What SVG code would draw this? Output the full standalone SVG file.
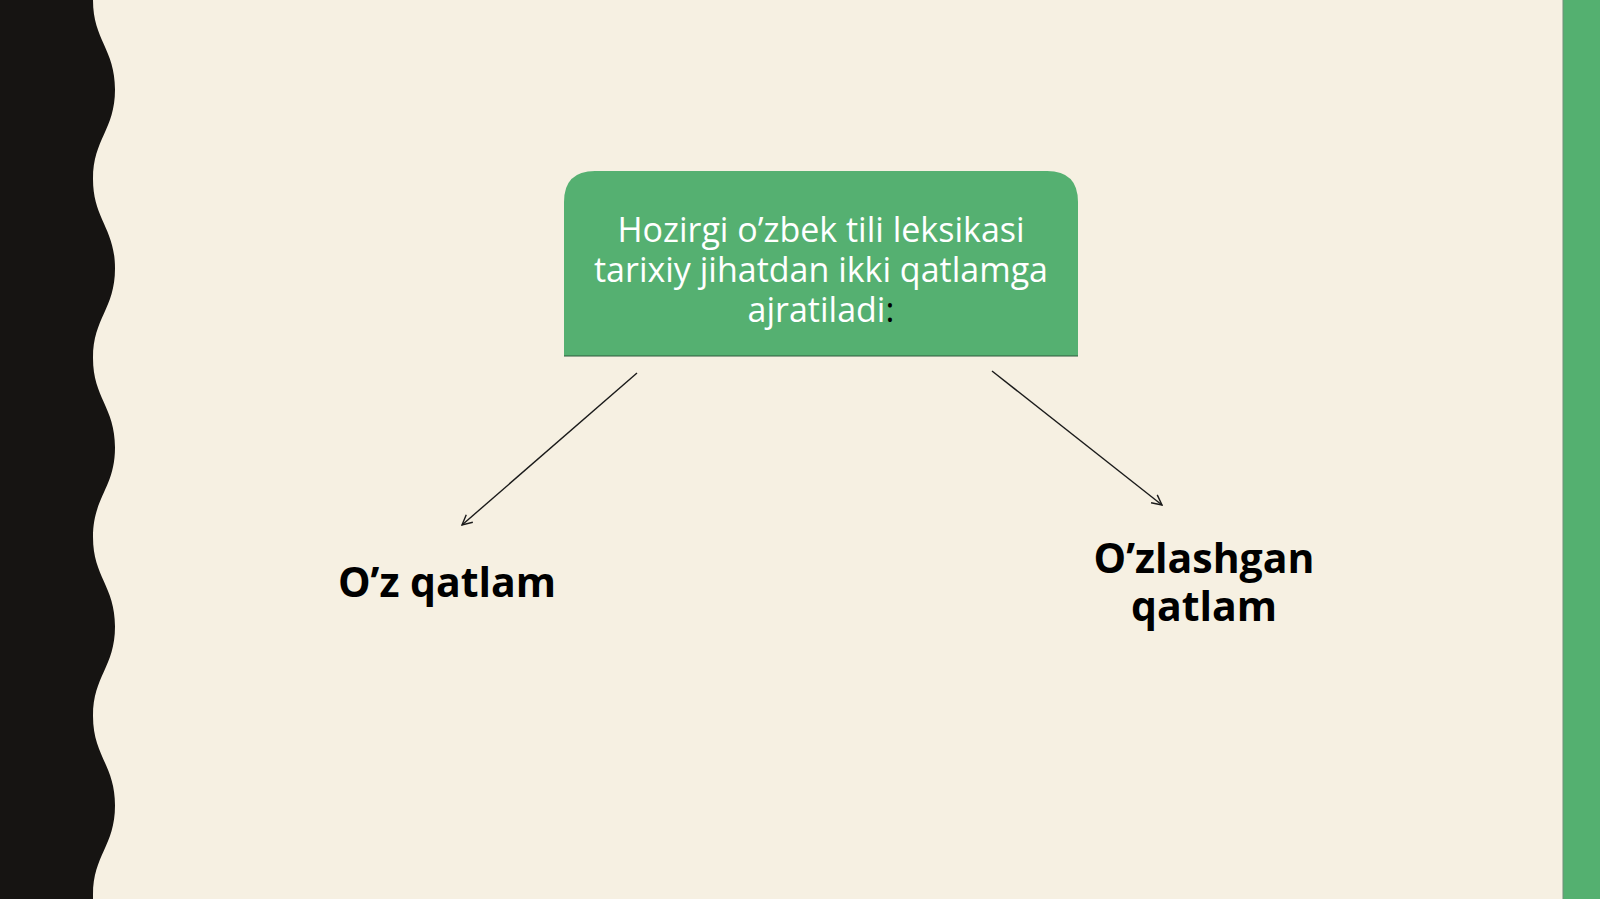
<svg xmlns="http://www.w3.org/2000/svg" width="1600" height="899" viewBox="0 0 1600 899">
  <style>
    .bg { fill: #f6f0e2; }
    .side { fill: #161412; }
    .strip { fill: #54b070; }
    .box { fill: #55b071; }
    .boxtext { font-family: "Open Sans", "Noto Sans", sans-serif; font-size: 34px; fill: #ffffff; text-anchor: middle; }
    .label { font-family: "Open Sans", "Noto Sans", sans-serif; font-size: 41px; font-weight: bold; fill: #000000; text-anchor: middle; }
    .conn { stroke: #1a1a1a; stroke-width: 1.4; fill: none; }
  </style>
  <defs>
    <marker id="arrow" viewBox="0 0 12 12" refX="11" refY="6" markerWidth="12" markerHeight="12" markerUnits="userSpaceOnUse" orient="auto">
      <path d="M1,1 L11,6 L1,11" fill="none" stroke="#1a1a1a" stroke-width="1.4"/>
    </marker>
  </defs>
  <rect class="bg" x="0" y="0" width="1600" height="899"/>
  <path class="side" d="M0,0 L93,0 C93,40 115,49 115,89.5 C115,130 93,139 93,179 C93,219 115,228 115,268.5 C115,309 93,318 93,358 C93,398 115,407 115,447.5 C115,488 93,497 93,537 C93,577 115,586 115,626.5 C115,667 93,676 93,716 C93,756 115,765 115,805.5 C115,846 93,855 93,895 L93,899 L0,899 Z"/>
  <rect class="strip" x="1563" y="0" width="37" height="899"/>
  <line x1="1563" y1="0" x2="1563" y2="899" stroke="#6f8f78" stroke-width="1"/>
  <g id="node-root">
    <path class="box" d="M564,356 L564,202 Q564,171 595,171 L1047,171 Q1078,171 1078,202 L1078,356 Z"/>
    <line x1="564" y1="356" x2="1078" y2="356" stroke="#2f5a3c" stroke-width="1.2"/>
    <text class="boxtext" x="821" y="242">Hozirgi o’zbek tili leksikasi</text>
    <text class="boxtext" x="821" y="282">tarixiy jihatdan ikki qatlamga</text>
    <text class="boxtext" x="821" y="322">ajratiladi<tspan fill="#000000">:</tspan></text>
  </g>
  <g id="node-oz">
    <text class="label" x="447" y="597">O’z qatlam</text>
  </g>
  <g id="node-ozlashgan">
    <text class="label" x="1204" y="573">O’zlashgan</text>
    <text class="label" x="1204" y="621">qatlam</text>
  </g>
  <g id="connectors">
    <line class="conn" x1="637" y1="373" x2="462" y2="525" marker-end="url(#arrow)"/>
    <line class="conn" x1="992" y1="371" x2="1162" y2="505" marker-end="url(#arrow)"/>
  </g>
</svg>
